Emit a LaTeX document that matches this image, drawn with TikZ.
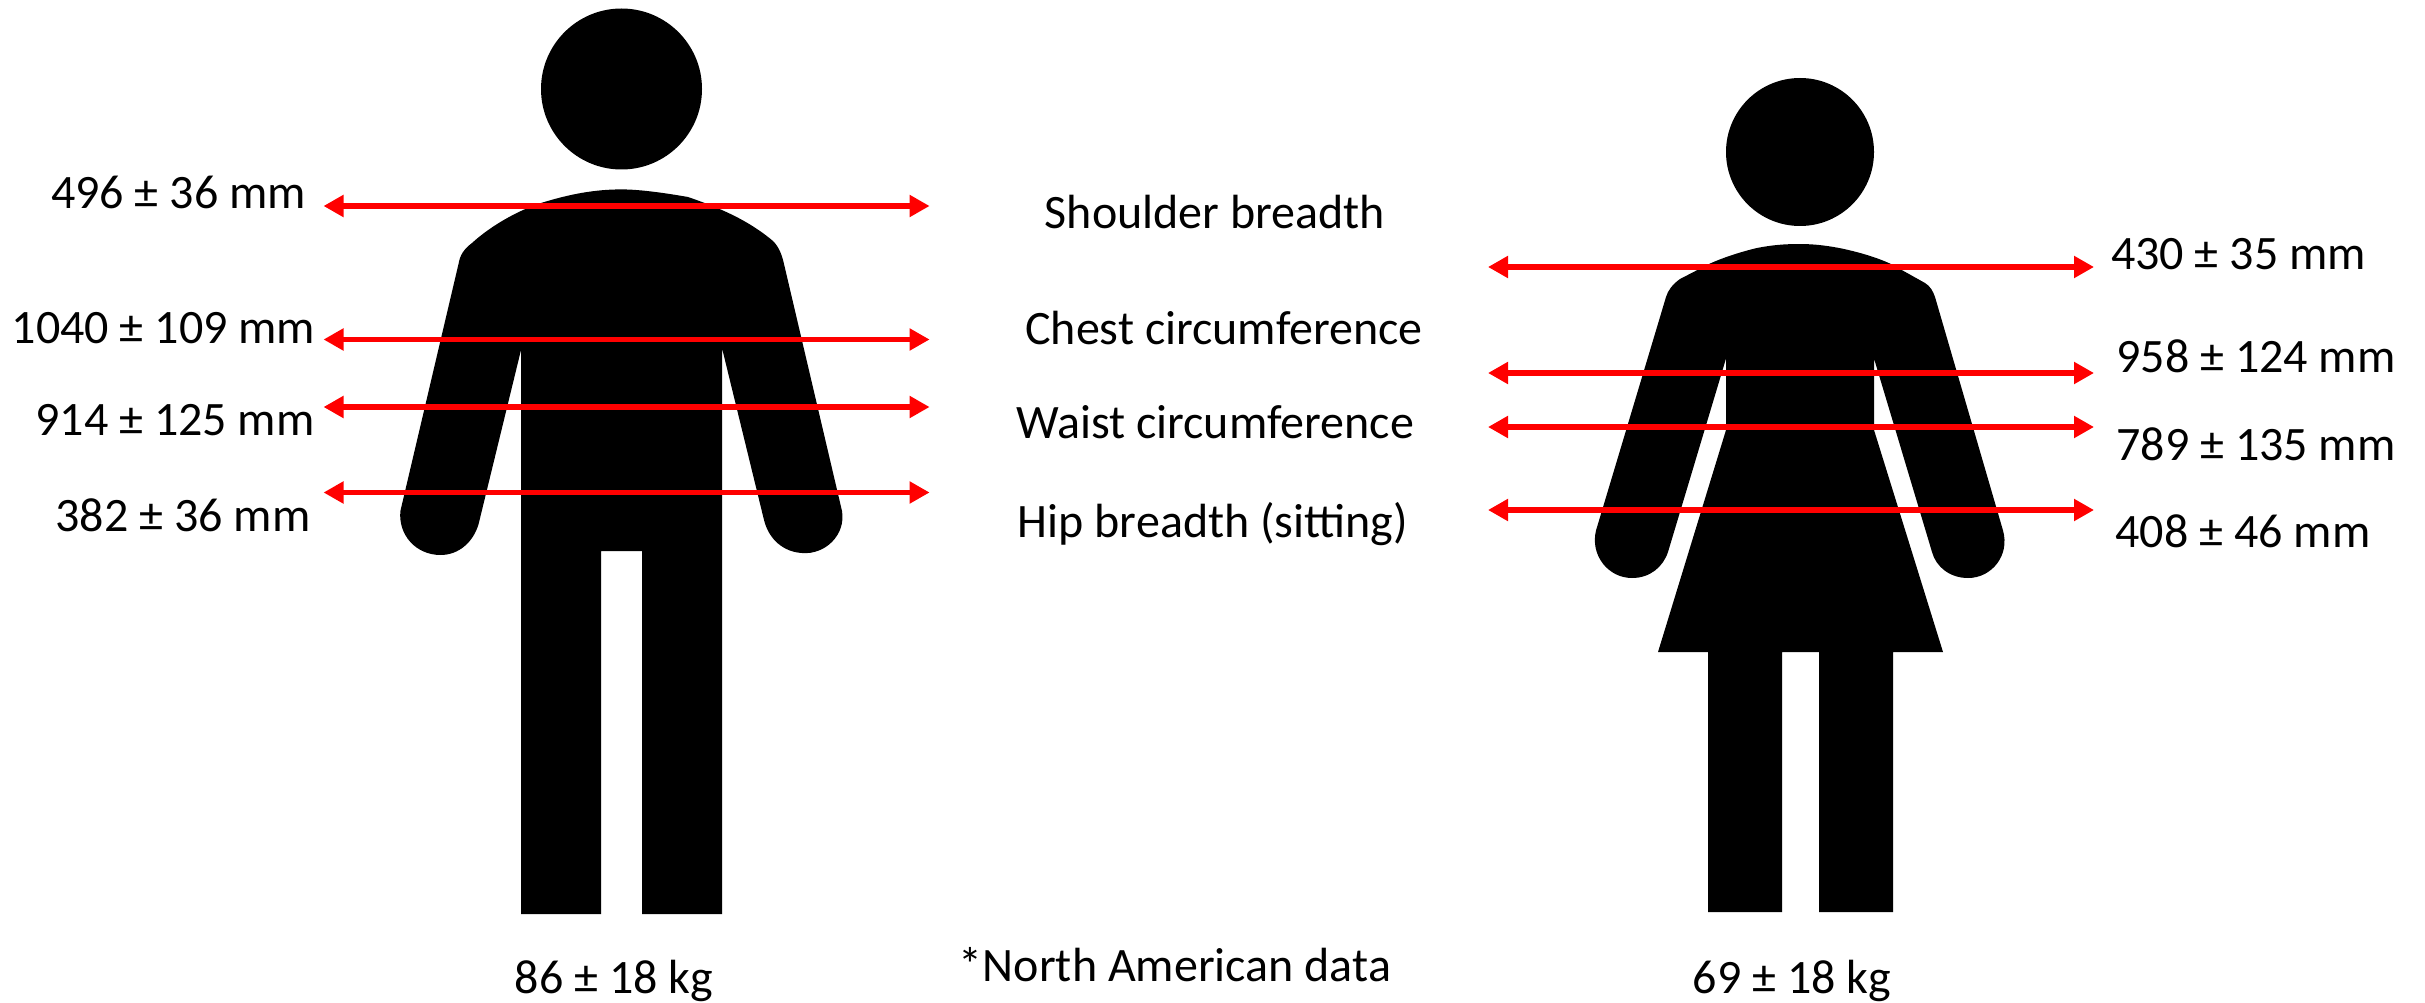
\documentclass[tikz,border=0pt]{standalone}
\usepackage{fontspec}
\setmainfont{Carlito}
\usetikzlibrary{arrows.meta}
\tikzset{
  x=1pt,y=-1pt,
  lab/.style={inner sep=0pt,font=\fontsize{48}{54}\selectfont,text=black},
  fig/.style={fill=black,draw=none},
  meas/.style={draw=red,line width=5.4pt,{Triangle[length=20pt,width=21pt]}-{Triangle[length=20pt,width=21pt]}}
}
\begin{document}
\begin{tikzpicture}
\useasboundingbox[fill=white] (0,0) rectangle (2425,1003);
% man
\fill[fig] (621.5,89) circle [radius=80.5];
\fill[fig] (621.5,189.4) .. controls (640,189.4) and (665,193) .. (688,197)
  .. controls (720,208) and (748,220) .. (773,241)
  .. controls (779,247) and (782,255) .. (784,264)
  -- (842,511) .. controls (846,535) and (825,555) .. (802,553)
  .. controls (784,552) and (769,540) .. (764,520)
  -- (722,348) -- (722,914) -- (642,914) -- (642,551) -- (601,551) -- (601,914) -- (521,914) -- (521,350)
  -- (478.6,524) .. controls (473,543) and (458,555) .. (440.6,555)
  .. controls (416,555) and (398,535) .. (400.4,511)
  -- (458.5,264) .. controls (460,255) and (464,249) .. (472,243)
  .. controls (495,222) and (525,208) .. (541,203)
  .. controls (570,194) and (595,189.4) .. (621.5,189.4) -- cycle;
% woman
\fill[fig] (1800,152) circle [radius=74];
\fill[fig] (1800,244) .. controls (1815,244) and (1830,246) .. (1844,249)
  .. controls (1862,253) and (1878,258) .. (1891,264)
  -- (1925,283) .. controls (1930,286) and (1933,291) .. (1935,297)
  -- (2003,530.5) .. controls (2010,555) and (1992,578) .. (1968,578)
  .. controls (1950,578) and (1936,567) .. (1932,552)
  -- (1874,358.5) -- (1874,430) -- (1943,652) -- (1893,652) -- (1893,912) -- (1819,912) -- (1819,652)
  -- (1782,652) -- (1782,912) -- (1708,912) -- (1708,652) -- (1658,652) -- (1726,430) -- (1726,358.5)
  -- (1668,552) .. controls (1663,567) and (1650,578) .. (1632,578)
  .. controls (1608,578) and (1590,555) .. (1596,530.5)
  -- (1666,297) .. controls (1668,290) and (1673,284) .. (1680,279)
  -- (1709,264) .. controls (1722,258) and (1740,252) .. (1757,248)
  .. controls (1772,245) and (1785,244) .. (1800,244) -- cycle;
% arrow ends
\foreach \n/\y in {a/206,b/339.5,c/407,d/492.5}{
  \coordinate (m\n l) at (323.5,\y);
  \coordinate (m\n r) at (929.6,\y);
}
\foreach \n/\y in {a/267,b/373,c/427,d/510}{
  \coordinate (w\n l) at (1488,\y);
  \coordinate (w\n r) at (2094,\y);
}
\foreach \p in {ma,mb,mc,md,wa,wb,wc,wd}{
  \draw[meas] (\p l) -- (\p r);
}
% labels
\node[lab] (t1) at (178.5,192.5) {496 ± 36 mm};
\node[lab] (t2) at (163.5,328.5) {1040 ± 109 mm};
\node[lab] (t3) at (175,420.5) {914 ± 125 mm};
\node[lab] (t4) at (183,515.5) {382 ± 36 mm};
\node[lab] (c1) at (1215,212.5) {Shoulder breadth};
\node[lab] (c2) at (1224,328.5) {Chest circumference};
\node[lab] (c3) at (1215,422.5) {Waist circumference};
\node[lab] (c4) at (1213,524.5) {Hip breadth (sitting)};
\node[lab] (r1) at (2238.5,254.5) {430 ± 35 mm};
\node[lab] (r2) at (2256,356.5) {958 ± 124 mm};
\node[lab] (r3) at (2256,444.5) {789 ± 135 mm};
\node[lab] (r4) at (2243,531.5) {408 ± 46 mm};
\node[lab,anchor=base] (k1) at (614,993.5) {86 ± 18 kg};
\node[lab,anchor=base] (k2) at (1175,981) {*North American data};
\node[lab,anchor=base] (k3) at (1792,993.5) {69 ± 18 kg};
\end{tikzpicture}
\end{document}
